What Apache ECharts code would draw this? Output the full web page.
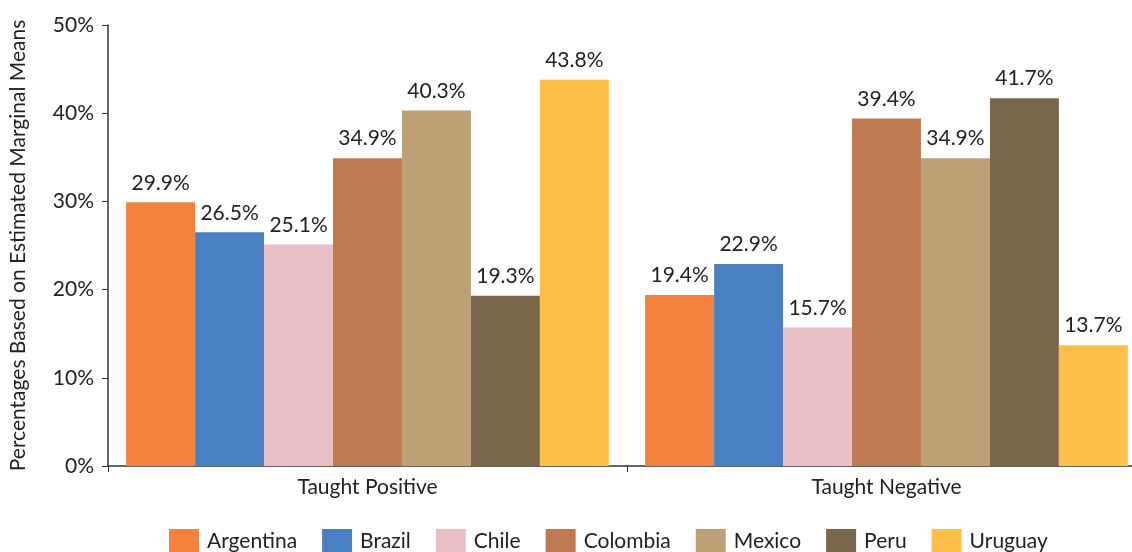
<!DOCTYPE html>
<html><head><meta charset="utf-8">
<script src="https://cdn.jsdelivr.net/npm/echarts@6/dist/echarts.min.js"></script>
<style>html,body{margin:0;padding:0;background:#fff}#c{width:1132px;height:552px}</style>
</head><body><div id="c"></div>
<script>
const categories = ['Taught Positive', 'Taught Negative'];
const countries = ['Argentina', 'Brazil', 'Chile', 'Colombia', 'Mexico', 'Peru', 'Uruguay'];
const argentina = [29.9, 19.4];
const brazil = [26.5, 22.9];
const chile = [25.1, 15.7];
const colombia = [34.9, 39.4];
const mexico = [40.3, 34.9];
const peru = [19.3, 41.7];
const uruguay = [43.8, 13.7];
const yTicks = [0, 10, 20, 30, 40, 50];
const colors = ['#F5823C', '#4880C2', '#E8BFC5', '#C07A52', '#BEA077', '#7A664A', '#FEC04A'];
const values = [argentina, brazil, chile, colombia, mexico, peru, uruguay];
const font = 'Lato, "Open Sans", sans-serif';
const chart = echarts.init(document.getElementById('c'));
chart.setOption({
  animation: false,
  textStyle: {fontFamily: font},
  grid: {left: 108, width: 1038, top: 25, bottom: 86, containLabel: false, outerBoundsMode: 'none'},
  legend: {
    data: countries, bottom: -7, left: 164, itemWidth: 30, itemHeight: 25, itemGap: 25,
    icon: 'rect',
    textStyle: {fontSize: 21, color: '#222', fontFamily: font, padding: [0, 0, 0, 3]}
  },
  xAxis: {
    type: 'category', data: categories,
    axisLine: {lineStyle: {color: '#333', width: 1.5}},
    axisTick: {show: true, length: 6, lineStyle: {color: '#333'}},
    axisLabel: {fontSize: 21, color: '#222', margin: 11, fontFamily: font}
  },
  yAxis: {
    type: 'value', min: yTicks[0], max: yTicks[yTicks.length - 1], interval: 10,
    name: 'Percentages Based on Estimated Marginal Means',
    nameLocation: 'middle', nameGap: 79, nameRotate: 90,
    nameTextStyle: {fontSize: 21, color: '#222', fontFamily: font},
    splitLine: {show: false},
    axisLine: {show: true, lineStyle: {color: '#333', width: 1.5}},
    axisTick: {show: true, length: 6, lineStyle: {color: '#333'}},
    axisLabel: {fontSize: 21, color: '#222', margin: 14, formatter: '{value}%', fontFamily: font}
  },
  series: countries.map((n, i) => ({
    name: n, type: 'bar', data: values[i], barGap: '0%', barCategoryGap: '7%',
    itemStyle: {color: colors[i]},
    label: {show: true, position: 'top', distance: 9, fontSize: 21, color: '#222', fontFamily: font,
      formatter: p => p.value.toFixed(1) + '%'}
  }))
});
</script></body></html>
